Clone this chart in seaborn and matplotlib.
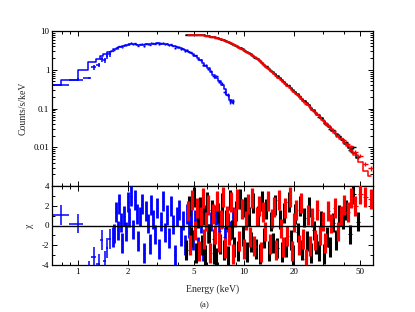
import numpy as np
import matplotlib
matplotlib.use("Agg")
import matplotlib.pyplot as plt
import seaborn as sns

# --- blue (soft band): sparse low-energy bins ---
blue_lo_e = [0.79, 1.00, 1.17, 1.25, 1.34, 1.40, 1.45, 1.50, 1.56]
blue_lo_data = [0.40, 0.55, 0.62, 1.15, 1.35, 1.90, 1.80, 2.30, 2.60]
blue_lo_chi = [1.1, 0.2, -4.6, -3.2, -3.9, -1.5, -3.6, -2.3, -1.4]
blue_lo_err = [0.05, 0.06, 0.05, 0.08, 0.08, 0.10, 0.10, 0.11, 0.12]

# model steps at low energy (left edges) and values
blue_step_edges = [0.70, 0.79, 1.00, 1.15, 1.28, 1.36, 1.42, 1.50, 1.58, 1.62]
blue_step_model = [0.41, 0.55, 1.00, 1.60, 1.90, 2.20, 2.50, 2.80, 3.10, 3.10]

# --- blue dense bins ---
blue_e = [1.62, 1.66, 1.70, 1.74, 1.78, 1.82, 1.86, 1.90, 1.95, 2.00, 2.05, 2.10,
          2.15, 2.20, 2.26, 2.32, 2.38, 2.44, 2.50, 2.57, 2.64, 2.71, 2.78, 2.85,
          2.93, 3.01, 3.09, 3.17, 3.26, 3.35, 3.44, 3.53, 3.63, 3.73, 3.83, 3.94,
          4.05, 4.16, 4.28, 4.40, 4.52, 4.65, 4.80, 4.95, 5.10, 5.30, 5.50, 5.70,
          5.90, 6.10, 6.35, 6.60, 6.85, 7.10, 7.40, 7.70, 8.00, 8.30, 8.60]
blue_model = [3.2, 3.35, 3.5, 3.65, 3.8, 3.95, 4.05, 4.15, 4.3, 4.4, 4.5, 4.55,
              4.55, 4.5, 4.45, 4.4, 4.4, 4.4, 4.45, 4.5, 4.55, 4.6, 4.65, 4.7,
              4.75, 4.8, 4.8, 4.75, 4.7, 4.6, 4.5, 4.4, 4.3, 4.15, 4.0, 3.85,
              3.7, 3.55, 3.4, 3.25, 3.1, 2.95, 2.75, 2.55, 2.3, 2.05, 1.75, 1.5,
              1.28, 1.08, 0.9, 0.75, 0.63, 0.52, 0.41, 0.31, 0.22, 0.165, 0.135]
blue_chi = [-1.2, -0.8, 1.4, -0.5, 2.2, 0.3, -1.8, 1.0, -0.6, 2.4, 0.8, 3.0,
            -0.4, 2.6, 1.2, -1.6, 0.9, 2.2, -2.8, 1.5, 0.2, -1.9, 2.1, 0.6,
            -0.9, 1.8, -2.4, 0.4, 2.5, -0.7, 1.1, -1.3, 2.0, 0.1, -3.0, 0.9,
            1.6, -1.1, 0.5, -2.0, 1.2, -0.3, 0.8, -1.5, 0.6, -2.2, 0.2, -2.6,
            1.0, -0.8, 0.4, -1.4, 1.1, -0.6, 0.7, -1.2, 0.3, -0.5, 0.9]

# --- black (hard band 1) ---
black_e = [4.5, 4.68, 4.83, 4.98, 5.13, 5.28, 5.43, 5.58, 5.73, 5.88,
           6.03, 6.2, 6.4, 6.6, 6.8, 7.0, 7.2, 7.4, 7.6, 7.8,
           8.0, 8.22, 8.47, 8.72, 8.97, 9.25, 9.55, 9.85, 10.15, 10.45,
           10.75, 11.07, 11.42, 11.77, 12.12, 12.5, 12.9, 13.3, 13.7, 14.12,
           14.57, 15.02, 15.47, 15.95, 16.45, 16.95, 17.47, 18.02, 18.6, 19.2,
           19.8, 20.42, 21.07, 21.75, 22.45, 23.17, 23.92, 24.7, 25.5, 26.35,
           27.25, 28.2, 29.25, 30.4, 31.65, 33.0, 34.45, 36.0, 37.65, 39.4,
           41.3, 43.4, 45.7, 48.5]
black_model = [8.05, 8.0, 8.0, 7.95, 7.9, 7.85, 7.8, 7.75, 7.7, 7.6,
               7.5, 7.35, 7.15, 6.95, 6.75, 6.5, 6.25, 6.0, 5.75, 5.5,
               5.25, 4.95, 4.65, 4.4, 4.15, 3.85, 3.6, 3.35, 3.1, 2.88,
               2.68, 2.48, 2.28, 2.05, 1.85, 1.7, 1.5, 1.35, 1.2, 1.06,
               0.95, 0.85, 0.77, 0.68, 0.6, 0.53, 0.48, 0.43, 0.38, 0.33,
               0.295, 0.26, 0.23, 0.2, 0.178, 0.157, 0.137, 0.12, 0.104, 0.09,
               0.078, 0.067, 0.057, 0.048, 0.04, 0.033, 0.027, 0.0225, 0.0185, 0.015,
               0.012, 0.0095, 0.0073, 0.0053]
black_chi = [-2.5, 2.0, -1.2, 2.9, -2.8, 0.7, 1.9, -2.0, 1.1, -3.0,
             2.4, -0.8, 1.6, -2.9, -3.3, 1.3, -1.9, 2.3, -2.5, 0.6,
             -3.1, 2.6, -0.4, -2.2, 1.5, -2.6, 2.7, -1.1, 1.9, -2.7,
             0.9, -1.7, 2.3, -2.4, 1.0, -2.9, 2.5, -1.3, 1.7, -2.6,
             0.4, -1.8, 2.1, -2.3, 0.6, -2.7, 1.3, -2.2, 2.4, -1.5,
             -3.0, 1.2, -0.7, 2.0, -2.5, 0.8, -1.6, 1.9, -2.8, -0.5,
             -1.9, -2.6, 0.5, -2.9, -1.2, -2.2, 0.3, -1.5, 1.1, 0.6,
             1.6, -0.9, 3.2, 0.4]

# --- red (hard band 2) ---
red_e = [4.6, 4.75, 4.9, 5.05, 5.2, 5.35, 5.5, 5.65, 5.8, 5.95,
         6.1, 6.3, 6.5, 6.7, 6.9, 7.1, 7.3, 7.5, 7.7, 7.9,
         8.1, 8.35, 8.6, 8.85, 9.1, 9.4, 9.7, 10.0, 10.3, 10.6,
         10.9, 11.25, 11.6, 11.95, 12.3, 12.7, 13.1, 13.5, 13.9, 14.35,
         14.8, 15.25, 15.7, 16.2, 16.7, 17.2, 17.75, 18.3, 18.9, 19.5,
         20.1, 20.75, 21.4, 22.1, 22.8, 23.55, 24.3, 25.1, 25.9, 26.8,
         27.7, 28.7, 29.8, 31.0, 32.3, 33.7, 35.2, 36.8, 38.5, 40.3,
         42.3, 44.5, 47.0, 50.0, 54.0, 58.0]
red_model = [8.0, 8.0, 7.95, 7.9, 7.85, 7.8, 7.75, 7.7, 7.6, 7.5,
             7.4, 7.2, 7.0, 6.8, 6.6, 6.35, 6.1, 5.85, 5.6, 5.35,
             5.1, 4.8, 4.5, 4.25, 4.0, 3.7, 3.45, 3.2, 2.95, 2.75,
             2.55, 2.35, 2.15, 1.9, 1.75, 1.58, 1.38, 1.25, 1.1, 0.98,
             0.87, 0.8, 0.7, 0.61, 0.54, 0.49, 0.44, 0.39, 0.34, 0.30,
             0.265, 0.235, 0.21, 0.18, 0.16, 0.14, 0.122, 0.107, 0.092, 0.08,
             0.07, 0.06, 0.05, 0.042, 0.035, 0.029, 0.024, 0.020, 0.0165, 0.013,
             0.0105, 0.0082, 0.0062, 0.0042, 0.0025, 0.0018]
red_chi = [1.5, -2.0, 2.6, -0.5, 1.8, -2.6, 0.9, 2.8, -1.4, 0.4,
           2.1, -2.8, 1.2, -0.9, 2.5, -1.7, 0.6, 2.9, -2.3, 1.0,
           -1.0, 2.4, -2.9, 0.8, 2.7, -1.6, 1.7, -2.4, 0.5, 2.2,
           -1.2, 2.8, -2.1, 0.9, 2.0, -2.7, 1.4, -0.6, 2.5, -1.9,
           0.7, 1.9, -2.5, 2.6, -0.3, -2.2, 1.8, -1.1, 2.9, -2.6,
           0.3, 1.6, -2.0, 2.3, -1.4, -3.4, 1.1, -2.1, 0.8, -1.5,
           1.6, -1.0, 0.4, -1.8, 1.5, 0.2, 1.8, -0.6, 1.0, 2.1,
           1.4, 2.8, 2.0, 3.2, 2.9, 2.7]

# error scale per band (relative error = k / sqrt(model))
err_k = {"blue": 0.06, "black": 0.010, "red": 0.009}


def bin_extent(e, first_lo=None):
    e = np.asarray(e, float)
    mids = np.sqrt(e[:-1] * e[1:])
    lo = np.concatenate([[e[0] ** 2 / mids[0]], mids])
    hi = np.concatenate([mids, [e[-1] ** 2 / mids[-1]]])
    if first_lo is not None:
        lo[0] = first_lo
    return e - lo, hi - e


def band(model, chi, k):
    m = np.asarray(model, float)
    rel = k / np.sqrt(m)
    data = m * (1 + np.asarray(chi) * rel)
    return data, m * rel


def residual_cross(ax, e, chi, xerr, col, vw, z):
    # thick vertical +-1 sigma bars, thin horizontal bin widths
    ax.errorbar(e, chi, yerr=1.0, fmt="none", ecolor=col, elinewidth=vw, zorder=z)
    ax.errorbar(e, chi, xerr=xerr, fmt="none", ecolor=col, elinewidth=0.8, zorder=z)


sns.set_theme(style="ticks")
plt.rcParams["font.family"] = ["Liberation Serif", "DejaVu Serif"]
plt.rcParams["xtick.direction"] = "in"
plt.rcParams["ytick.direction"] = "in"

fig = plt.figure(figsize=(4.15, 3.12), dpi=100)
ax_top = fig.add_axes([52 / 415, 1 - 186 / 312, 321 / 415, 155 / 312])
ax_res = fig.add_axes([52 / 415, 1 - 265 / 312, 321 / 415, 79 / 312], sharex=ax_top)

lw = 1.1
bands = [
    ("blue", "#0000ff", blue_e, blue_model, blue_chi, 2.0),
    ("black", "black", black_e, black_model, black_chi, 2.2),
    ("red", "#ff0000", red_e, red_model, red_chi, 2.3),
]

# blue low-energy part
sns.lineplot(x=blue_step_edges, y=blue_step_model, ax=ax_top, color="#0000ff",
             drawstyle="steps-post", estimator=None, sort=False, linewidth=lw)
xl, xh = bin_extent(blue_lo_e, first_lo=0.70)
ax_top.errorbar(blue_lo_e, blue_lo_data, xerr=[xl, xh],
                yerr=np.asarray(blue_lo_err) * np.asarray(blue_lo_data) * 1.5,
                fmt="none", ecolor="#0000ff", elinewidth=lw)
ax_res.errorbar(blue_lo_e, blue_lo_chi, xerr=[xl, xh], yerr=1.0,
                fmt="none", ecolor="#0000ff", elinewidth=lw)

for z, (name, col, e, model, chi, vw) in enumerate(bands):
    data, err = band(model, chi, err_k[name])
    xl, xh = bin_extent(e)
    sns.lineplot(x=e, y=model, ax=ax_top, color=col, drawstyle="steps-mid",
                 estimator=None, sort=False, linewidth=lw, zorder=3 + z)
    ax_top.errorbar(e, data, xerr=[xl, xh], yerr=err, fmt="none", ecolor=col,
                    elinewidth=1.0, zorder=3 + z)
    residual_cross(ax_res, e, chi, [xl, xh], col, vw, 3 + z)

ax_res.axhline(0, color="black", linewidth=1.0, zorder=10)

# axes styling
ax_top.set_xscale("log")
ax_top.set_yscale("log")
ax_top.set_xlim(0.70, 60)
ax_top.set_ylim(1e-3, 10)
ax_res.set_ylim(-4, 4)

maj = [1, 2, 5, 10, 20, 50]
mnr = [0.7, 0.8, 0.9, 3, 4, 6, 7, 8, 9, 30, 40]
ax_res.set_xticks(maj, labels=[str(v) for v in maj])
ax_res.set_xticks(mnr, minor=True, labels=[""] * len(mnr))
ax_top.set_yticks([1e-3, 1e-2, 0.1, 1, 10], labels=["", "0.01", "0.1", "1", "10"])
ax_res.set_yticks([-4, -2, 0, 2, 4], labels=["-4", "-2", "0", "2", "4"])
ax_res.set_yticks([-3, -1, 1, 3], minor=True)

for ax in (ax_top, ax_res):
    for s in ax.spines.values():
        s.set_linewidth(0.9)
        s.set_color("black")
    ax.tick_params(which="both", top=True, right=True, direction="in",
                   labelsize=6.5, colors="black", width=0.7)
    ax.tick_params(which="major", length=3.5, pad=2)
    ax.tick_params(which="minor", length=2)
    ax.grid(False)
ax_top.tick_params(labelbottom=False)

ax_top.set_ylabel("Counts/s/keV", fontsize=7)
ax_top.yaxis.set_label_coords(-0.075, 0.5)
ax_res.set_ylabel("\u03c7", fontsize=7)
ax_res.yaxis.set_label_coords(-0.055, 0.5)
ax_res.set_xlabel("Energy (keV)", fontsize=7)
ax_res.xaxis.set_label_coords(0.5, -0.24)
fig.text(205 / 415, 1 - 305 / 312, "(a)", fontsize=6.5, ha="center", va="center")

fig.savefig("out.png", dpi=100)
